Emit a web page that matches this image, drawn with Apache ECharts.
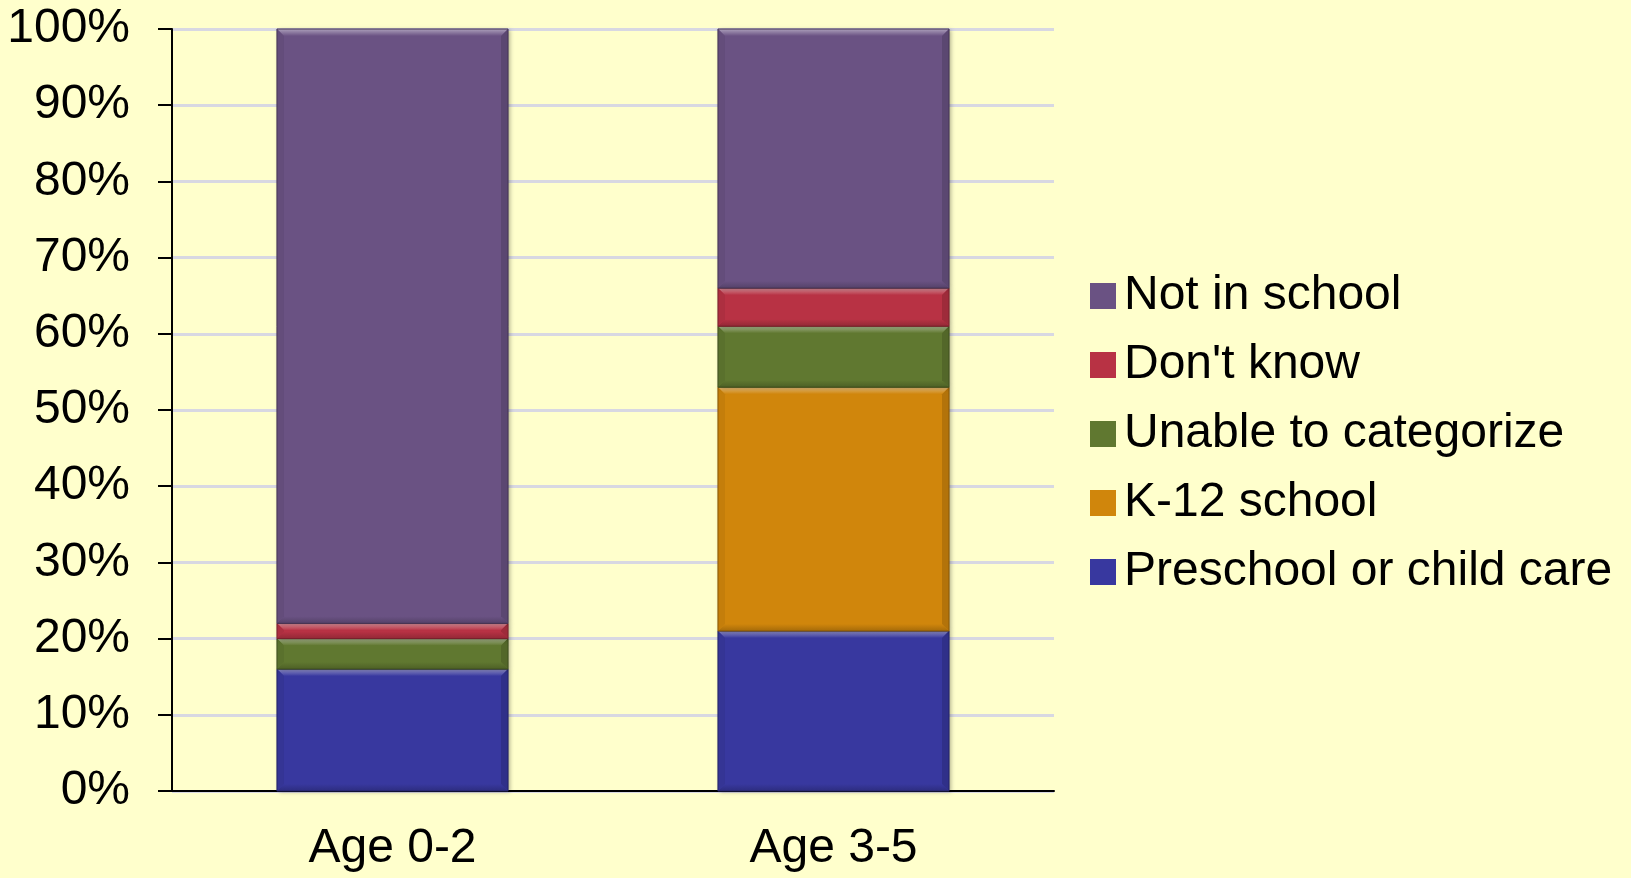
<!DOCTYPE html>
<html>
<head>
<meta charset="utf-8">
<script src="https://cdn.jsdelivr.net/npm/echarts@6/dist/echarts.min.js"></script>
<style>
  html, body { margin: 0; padding: 0; background: #FFFFCC; }
  #chart { width: 1631px; height: 878px; }
</style>
</head>
<body>
<div id="chart"></div>
<script>
// Age groups along the horizontal axis
const categories = ['Age 0-2', 'Age 3-5'];

// Share of children (percent) in each setting, bottom of the stack first
const preschool   = [16, 21];
const k12         = [0, 32];
const unable      = [4, 8];
const dontKnow    = [2, 5];
const notInSchool = [78, 34];

const seriesNames = ['Preschool or child care', 'K-12 school', 'Unable to categorize', "Don't know", 'Not in school'];
const seriesValues = [preschool, k12, unable, dontKnow, notInSchool];
const seriesColors = ['#38389F', '#D0860C', '#607830', '#B83244', '#6A5283'];

const yTicks = [0, 10, 20, 30, 40, 50, 60, 70, 80, 90, 100];

const FONT = '"Liberation Sans", Arial, sans-serif';
const BAR_RATIO = 0.524;

function mix(hex, target, t) {
  const n = parseInt(hex.slice(1), 16);
  const r = (n >> 16) & 255, g = (n >> 8) & 255, b = n & 255;
  const m = c => Math.round(c + (target - c) * t);
  return 'rgb(' + m(r) + ',' + m(g) + ',' + m(b) + ')';
}

// Stack the segments: each data item is [category index, lower edge, upper edge]
const stackBase = categories.map(() => 0);
const stacked = seriesValues.map(vals => vals.map((v, i) => {
  const lo = stackBase[i];
  stackBase[i] += v;
  return [i, lo, lo + v];
}));

// Beveled block: light top edge, darker bottom and right edges
function makeRenderer(color) {
  const light = mix(color, 255, 0.45);
  const dark = mix(color, 0, 0.2);
  const side = mix(color, 0, 0.06);
  const right = mix(color, 0, 0.14);
  const edge = mix(color, 0, 0.35);
  return function (params, api) {
    const cat = api.value(0), lo = api.value(1), hi = api.value(2);
    if (hi - lo <= 0) return null;
    const pLo = api.coord([cat, lo]);
    const pHi = api.coord([cat, hi]);
    const w = api.size([1, 0])[0] * BAR_RATIO;
    const x0 = pLo[0] - w / 2, x1 = pLo[0] + w / 2;
    const y0 = pHi[1], y1 = pLo[1];
    const h = y1 - y0;
    const b = Math.min(7, h / 2);
    return {
      type: 'group',
      children: [
        { type: 'rect', shape: { x: x0, y: y0, width: w, height: h },
          style: { fill: color, shadowBlur: 4, shadowOffsetX: 2, shadowOffsetY: 1, shadowColor: 'rgba(0,0,0,0.3)' } },
        { type: 'polygon', shape: { points: [[x0, y0], [x1, y0], [x1 - b, y0 + b], [x0 + b, y0 + b]] },
          style: { fill: new echarts.graphic.LinearGradient(0, 0, 0, 1, [
            { offset: 0, color: light }, { offset: 1, color: color }]) } },
        { type: 'polygon', shape: { points: [[x0, y1], [x1, y1], [x1 - b, y1 - b], [x0 + b, y1 - b]] },
          style: { fill: new echarts.graphic.LinearGradient(0, 0, 0, 1, [
            { offset: 0, color: color }, { offset: 1, color: dark }]) } },
        { type: 'polygon', shape: { points: [[x0, y0], [x0 + b, y0 + b], [x0 + b, y1 - b], [x0, y1]] },
          style: { fill: side } },
        { type: 'polygon', shape: { points: [[x1, y0], [x1 - b, y0 + b], [x1 - b, y1 - b], [x1, y1]] },
          style: { fill: right } },
        { type: 'rect', shape: { x: x0, y: y0, width: w, height: h },
          style: { fill: 'none', stroke: edge, lineWidth: 1 } }
      ]
    };
  };
}

const chart = echarts.init(document.getElementById('chart'));
chart.setOption({
  backgroundColor: '#FFFFCC',
  animation: false,
  textStyle: { fontFamily: FONT },
  grid: { left: 172, right: 577, top: 29, bottom: 87 },
  legend: {
    orient: 'vertical',
    left: 1085,
    top: 267,
    icon: 'rect',
    itemWidth: 26,
    itemHeight: 26,
    itemGap: 21,
    data: seriesNames.slice().reverse(),
    textStyle: { fontFamily: FONT, fontSize: 48, lineHeight: 48, color: '#000', padding: [0, 0, 0, 3] }
  },
  xAxis: {
    type: 'category',
    data: categories,
    boundaryGap: true,
    axisLine: { lineStyle: { color: '#000', width: 2 } },
    axisTick: { length: 14, lineStyle: { color: '#000', width: 2 } },
    axisLabel: { fontFamily: FONT, fontSize: 48, color: '#000', margin: 34 }
  },
  yAxis: {
    type: 'value',
    min: yTicks[0],
    max: yTicks[yTicks.length - 1],
    interval: yTicks[1] - yTicks[0],
    axisLine: { show: true, lineStyle: { color: '#000', width: 2 } },
    axisTick: { show: true, length: 14, lineStyle: { color: '#000', width: 2 } },
    axisLabel: { fontFamily: FONT, fontSize: 48, color: '#000', margin: 42, formatter: '{value}%' },
    splitLine: { lineStyle: { color: '#D8D8E2', width: 3 } }
  },
  series: seriesNames.map((name, k) => ({
    name: name,
    type: 'custom',
    renderItem: makeRenderer(seriesColors[k]),
    itemStyle: { color: seriesColors[k] },
    encode: { x: 0, y: [1, 2] },
    data: stacked[k]
  }))
});
</script>
</body>
</html>
